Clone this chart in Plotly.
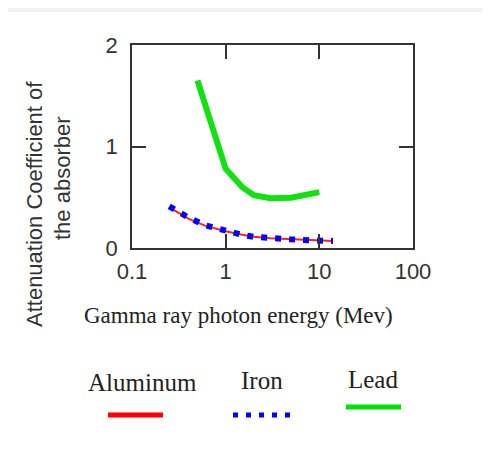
import plotly.graph_objects as go

# ---- data ----
energy_al = [0.25, 0.4, 0.6, 1, 1.5, 2, 3, 5, 8, 14]
mu_al = [0.40, 0.29, 0.22, 0.165, 0.13, 0.11, 0.095, 0.085, 0.075, 0.07]

energy_fe = [0.25, 0.4, 0.6, 1, 1.5, 2, 3, 5, 8, 14]
mu_fe = [0.41, 0.30, 0.225, 0.165, 0.13, 0.11, 0.095, 0.085, 0.075, 0.07]

energy_pb = [0.5, 1, 1.5, 2, 3, 5, 10]
mu_pb = [1.65, 0.78, 0.60, 0.52, 0.49, 0.495, 0.55]

x_ticks = [0.1, 1, 10, 100]
x_tick_labels = ["0.1", "1", "10", "100"]
y_ticks = [0, 1, 2]
y_tick_labels = ["0", "1", "2"]

series_names = ["Aluminum", "Iron", "Lead"]

fig = go.Figure()
fig.add_trace(go.Scatter(x=energy_al, y=mu_al, mode="lines", name=series_names[0],
                         line=dict(color="#ff2020", width=2)))
fig.add_trace(go.Scatter(x=energy_fe, y=mu_fe, mode="lines", name=series_names[1],
                         line=dict(color="#0000ff", width=6, dash="6px,8px")))
fig.add_trace(go.Scatter(x=energy_pb, y=mu_pb, mode="lines", name=series_names[2],
                         line=dict(color="#11e011", width=6)))

axis_common = dict(showline=True, linecolor="#333333", linewidth=1.5, mirror="ticks",
                   ticks="inside", ticklen=14, tickwidth=1.5, tickcolor="#333333",
                   showgrid=False, zeroline=False,
                   tickfont=dict(family="Liberation Sans, Arial", size=22, color="#333333"))

fig.update_xaxes(type="log", range=[-1, 2], tickvals=x_ticks, ticktext=x_tick_labels,
                 ticklabelstandoff=3, **axis_common)
fig.update_yaxes(range=[0, 2], tickvals=y_ticks, ticktext=y_tick_labels,
                 ticklabelstandoff=8, **axis_common)

# the page body has an 8px margin, so the figure is placed at (8, 8)
OFF = 8
W, H = 490 - OFF, 468 - OFF
L, R, T, B = 132 - OFF, 77, 45 - OFF, 220
pw, ph = W - L - R, H - T - B

def px(xp):
    return (xp - OFF - L) / pw

def py(yp):
    return (H - B - (yp - OFF)) / ph

shapes = [
    dict(type="rect", xref="paper", yref="paper", x0=px(0), x1=px(W + 30),
         y0=py(H + 30), y1=py(12), fillcolor="white", line=dict(width=0), layer="below"),
    dict(type="line", xref="paper", yref="paper", x0=px(108), x1=px(163), y0=py(415), y1=py(415),
         line=dict(color="#ff0000", width=5)),
    dict(type="line", xref="paper", yref="paper", x0=px(233), x1=px(290), y0=py(415), y1=py(415),
         line=dict(color="#0000ff", width=5, dash="5px,8px")),
    dict(type="line", xref="paper", yref="paper", x0=px(346), x1=px(401), y0=py(407), y1=py(407),
         line=dict(color="#00e000", width=5)),
]

serif = "Liberation Serif, Times New Roman"
sans = "Liberation Sans, Arial"
annotations = [
    dict(text="Attenuation Coefficient of", x=px(34), y=py(204), textangle=-90,
         font=dict(family=sans, size=22, color="#333333")),
    dict(text="the absorber", x=px(62), y=py(178), textangle=-90,
         font=dict(family=sans, size=22, color="#333333")),
    dict(text="Gamma ray photon energy (Mev)", x=px(238), y=py(315),
         font=dict(family=serif, size=23, color="#222222")),
    dict(text=series_names[0], x=px(142), y=py(382), font=dict(family=serif, size=25, color="#222222")),
    dict(text=series_names[1], x=px(262), y=py(380), font=dict(family=serif, size=25, color="#222222")),
    dict(text=series_names[2], x=px(373), y=py(379), font=dict(family=serif, size=25, color="#222222")),
]
for a in annotations:
    a.update(xref="paper", yref="paper", showarrow=False, xanchor="center", yanchor="middle")

fig.update_layout(width=W, height=H, margin=dict(l=L, r=R, t=T, b=B),
                  paper_bgcolor="#f2f2f2", plot_bgcolor="white", showlegend=False,
                  shapes=shapes, annotations=annotations)

fig.write_html("out.html")
